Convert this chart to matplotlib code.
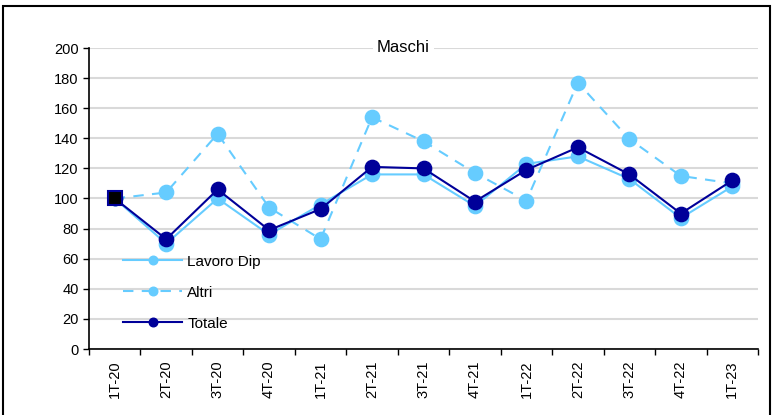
import numpy as np
import matplotlib
matplotlib.use("Agg")
import matplotlib.pyplot as plt
from matplotlib.patches import Rectangle

quarters = ["1T-20", "2T-20", "3T-20", "4T-20", "1T-21", "2T-21", "3T-21",
            "4T-21", "1T-22", "2T-22", "3T-22", "4T-22", "1T-23"]
lavoro_dip = [100, 70, 100, 76, 96, 116, 116, 95, 123, 128, 113, 87, 108]
altri = [100, 104, 143, 94, 73, 154, 138, 117, 98.5, 177, 139.5, 115, 110]
totale = [100, 73, 106, 79, 93, 121, 120, 98, 119, 134, 116, 90, 112]

light = "#66CCFF"
dark = "#000099"

plt.rcParams["font.family"] = ["Liberation Sans", "DejaVu Sans"]

fig = plt.figure(figsize=(7.72, 4.15), dpi=100)
ax = fig.add_axes([89 / 772, 1 - 349 / 415, 669 / 772, 301 / 415])

x = np.arange(len(quarters))
ax.plot(x, lavoro_dip, color=light, lw=1.5, marker="o", ms=10.3,
        label="Lavoro Dip", zorder=3)
ax.plot(x, altri, color=light, lw=1.5, ls=(0, (5, 4)), marker="o", ms=10.3,
        label="Altri", zorder=3)
ax.plot(x, totale, color=dark, lw=1.5, marker="o", ms=10.3,
        label="Totale", zorder=4)
# first point marked as base (square)
ax.plot(x[:1], totale[:1], ls="none", marker="s", ms=10, mfc="black",
        mec=dark, mew=1.5, zorder=5)

ax.set_xlim(-0.5, len(quarters) - 0.5)
ax.set_ylim(0, 200)
ax.set_yticks(range(0, 201, 20))
ax.set_xticks(x)
ax.set_xticklabels(quarters, rotation=90, fontsize=10.5)
ax.set_xticks(np.arange(-0.5, len(quarters), 1), minor=True)
ax.tick_params(axis="x", which="major", length=0, pad=8)
ax.tick_params(axis="x", which="minor", length=4, width=1, direction="out")
ax.tick_params(axis="y", labelsize=10.5, length=4, width=1, direction="out")

ax.grid(axis="y", color="#D9D9D9", lw=1.5)
ax.set_axisbelow(True)
for side in ["top", "right"]:
    ax.spines[side].set_visible(False)
ax.spines["left"].set_linewidth(1.2)
ax.spines["bottom"].set_linewidth(1.2)

ax.text(0.47, 1.0, "Maschi", transform=ax.transAxes, ha="center", va="center",
        fontsize=12, bbox=dict(facecolor="white", edgecolor="none", pad=3),
        zorder=6)

ax.legend(loc="lower left", bbox_to_anchor=(0.03, 0.015), frameon=False,
          fontsize=11, handlelength=3.9, labelspacing=1.12, handletextpad=0.33,
          markerscale=0.6)

fig.patches.append(Rectangle((3, -10), 767, 416 - 6 + 10 - 1, fill=False,
                             edgecolor="black", lw=1.5,
                             transform=None, figure=fig))

fig.savefig("out.png", dpi=100)
